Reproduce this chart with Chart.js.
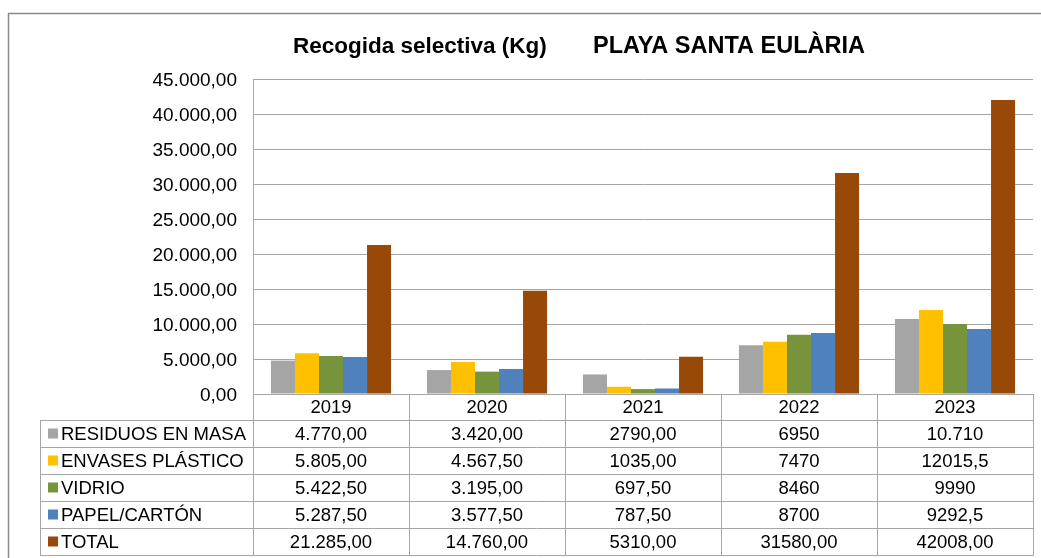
<!DOCTYPE html>
<html>
<head>
<meta charset="utf-8">
<script src="https://cdn.jsdelivr.net/npm/chart.js@4"></script>
<style>
  body { margin: 0; background: #fff; }
  canvas { display: block; }
</style>
</head>
<body>
<canvas id="graph" width="1041" height="558"></canvas>
<script>
// Datos
const years = ['2019', '2020', '2021', '2022', '2023'];
const seriesNames = ['RESIDUOS EN MASA', 'ENVASES PLÁSTICO', 'VIDRIO', 'PAPEL/CARTÓN', 'TOTAL'];
const residuos = [4770, 3420, 2790, 6950, 10710];
const envases = [5805, 4567.5, 1035, 7470, 12015.5];
const vidrio = [5422.5, 3195, 697.5, 8460, 9990];
const papel = [5287.5, 3577.5, 787.5, 8700, 9292.5];
const total = [21285, 14760, 5310, 31580, 42008];

// Textos de la tabla (tal como aparecen)
const residuosTxt = ['4.770,00', '3.420,00', '2790,00', '6950', '10.710'];
const envasesTxt = ['5.805,00', '4.567,50', '1035,00', '7470', '12015,5'];
const vidrioTxt = ['5.422,50', '3.195,00', '697,50', '8460', '9990'];
const papelTxt = ['5.287,50', '3.577,50', '787,50', '8700', '9292,5'];
const totalTxt = ['21.285,00', '14.760,00', '5310,00', '31580,00', '42008,00'];

const titleLeft = 'Recogida selectiva (Kg)';
const titleRight = 'PLAYA SANTA EULÀRIA';

const colors = ['#A5A5A5', '#FFC000', '#77933C', '#4F81BD', '#984807'];
const FONT = '"Liberation Sans", Arial, sans-serif';
const GRID = '#a6a6a6';

const seriesData = [residuos, envases, vidrio, papel, total];
const tableTxt = [residuosTxt, envasesTxt, vidrioTxt, papelTxt, totalTxt];

function fmt(v) {
    const s = Math.round(v).toString().replace(/\B(?=(\d{3})+(?!\d))/g, '.');
    return s + ',00';
}

// Plugin: marco, título y tabla de datos
const tablePlugin = {
    id: 'dataTable',
    beforeDraw(chart) {
        const c = chart.ctx;
        c.save();
        c.strokeStyle = '#8a8a8a';
        c.lineWidth = 1.5;
        c.beginPath();
        c.moveTo(8.5, 558);
        c.lineTo(8.5, 13.5);
        c.lineTo(1041, 13.5);
        c.stroke();
        c.restore();
    },
    afterDraw(chart) {
        const c = chart.ctx;
        const x = chart.scales.x;
        const area = chart.chartArea;
        const n = years.length;
        const colW = x.width / n;
        const top = area.bottom;
        const yearRowH = 26;
        const rowH = 27;
        const tableLeft = 40;
        const firstRow = top + yearRowH;
        const bottom = firstRow + rowH * seriesNames.length;

        c.save();
        // título
        c.fillStyle = '#000';
        c.textBaseline = 'alphabetic';
        c.font = 'bold 22.5px ' + FONT;
        c.textAlign = 'left';
        c.fillText(titleLeft, 293, 53);
        c.font = 'bold 23.5px ' + FONT;
        c.fillText(titleRight, 593, 53);

        // líneas
        c.strokeStyle = GRID;
        c.lineWidth = 1;
        c.beginPath();
        c.moveTo(area.left, top + 0.5);
        c.lineTo(area.right, top + 0.5);
        for (let r = 0; r <= seriesNames.length; r++) {
            const yy = Math.round(firstRow + r * rowH) + 0.5;
            c.moveTo(tableLeft, yy);
            c.lineTo(area.right, yy);
        }
        c.moveTo(tableLeft + 0.5, firstRow);
        c.lineTo(tableLeft + 0.5, bottom + 0.5);
        for (let i = 0; i <= n; i++) {
            const xx = Math.round(x.getPixelForValue(i) - colW / 2) + 0.5;
            c.moveTo(xx, top);
            c.lineTo(xx, bottom + 0.5);
        }
        c.stroke();

        // textos
        c.fillStyle = '#000';
        c.font = '18.5px ' + FONT;
        c.textBaseline = 'middle';
        c.textAlign = 'center';
        years.forEach((yr, i) => {
            c.fillText(yr, x.getPixelForValue(i), top + yearRowH / 2 + 1);
        });
        seriesNames.forEach((name, r) => {
            const cy = firstRow + r * rowH + rowH / 2 + 1;
            c.fillStyle = colors[r];
            c.fillRect(48, cy - 6, 10, 10);
            c.fillStyle = '#000';
            c.textAlign = 'left';
            c.fillText(name, 61, cy);
            c.textAlign = 'center';
            tableTxt[r].forEach((t, i) => {
                c.fillText(t, x.getPixelForValue(i), cy);
            });
        });
        c.restore();
    }
};

const ctx = document.getElementById('graph');
new Chart(ctx, {
    type: 'bar',
    data: {
        labels: years,
        datasets: seriesNames.map((name, k) => ({
            label: name,
            data: seriesData[k],
            backgroundColor: colors[k],
            borderWidth: 0,
            categoryPercentage: 0.77,
            barPercentage: 1.0
        }))
    },
    options: {
        responsive: false,
        animation: false,
        layout: { padding: { top: 79, right: 8, left: 0, bottom: 0 } },
        plugins: {
            legend: { display: false },
            title: { display: false },
            tooltip: { enabled: false }
        },
        scales: {
            x: {
                ticks: { display: false },
                grid: { display: false },
                border: { display: false },
                afterFit(scale) { scale.height = 164; }
            },
            y: {
                min: 0,
                max: 45000,
                ticks: {
                    stepSize: 5000,
                    padding: 16,
                    labelOffset: 2,
                    color: '#000',
                    font: { family: FONT, size: 19 },
                    callback: v => fmt(v)
                },
                grid: { color: GRID, drawTicks: false },
                border: { color: GRID },
                afterFit(scale) { scale.width = 253; }
            }
        }
    },
    plugins: [tablePlugin]
});
</script>
</body>
</html>
